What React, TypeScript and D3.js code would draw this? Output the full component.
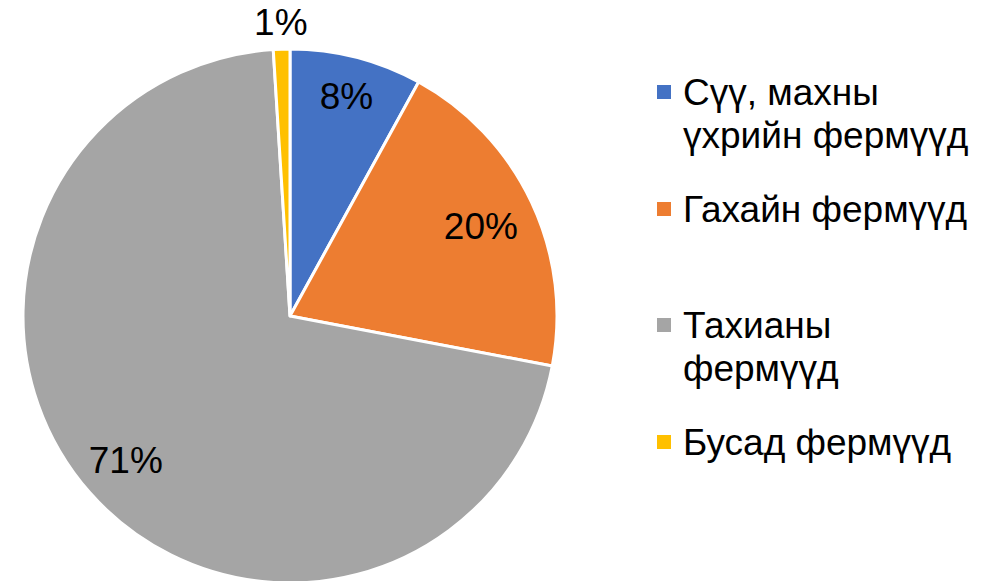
import React from "react";
import * as d3 from "d3";

const categories = ["Сүү, махны үхрийн фермүүд", "Гахайн фермүүд", "Тахианы фермүүд", "Бусад фермүүд"];
const legendLines = [["Сүү, махны", "үхрийн фермүүд"], ["Гахайн фермүүд"], ["Тахианы", "фермүүд"], ["Бусад фермүүд"]];
const values = [8, 20, 71, 1];
const colors = ["#4472C4", "#ED7D31", "#A5A5A5", "#FFC000"];
const legendBaselines = [105, 222, 338, 455];

export default function App() {
  const W = 1000, H = 581;
  const cx = 290, cy = 316, r = 267;
  const pie = d3.pie<number>().sort(null).value((d) => d)(values);
  const arc = d3.arc<d3.PieArcDatum<number>>().innerRadius(0).outerRadius(r);
  const total = d3.sum(values);
  const labelRadii = [0.85, 0.79, 0.82, 1.1];
  const font = "'Liberation Sans', Arial, sans-serif";
  return (
    <svg width={W} height={H} style={{ position: "absolute", left: 0, top: 0 }} fontFamily={font}>
      <rect width={W} height={H} fill="#fff" />
      <g transform={`translate(${cx},${cy})`}>
        {pie.map((p, i) => (
          <path key={i} d={arc(p) || ""} fill={colors[i]} stroke="#fff" strokeWidth={3} strokeLinejoin="round" />
        ))}
        {pie.map((p, i) => {
          const lr = r * labelRadii[i];
          const [x, y] = d3.arc<d3.PieArcDatum<number>>().innerRadius(lr).outerRadius(lr).centroid(p);
          return (
            <text key={i} x={x} y={y} textAnchor="middle" dominantBaseline="central" fontSize={37} fill="#000">
              {Math.round((values[i] / total) * 100)}%
            </text>
          );
        })}
      </g>
      {legendLines.map((lines, i) => (
        <g key={i}>
          <rect x={657} y={legendBaselines[i] - 20} width={14} height={14} fill={colors[i]} />
          <text x={683} y={legendBaselines[i]} fontSize={37} fill="#000">
            {lines.map((l, j) => (
              <tspan key={j} x={683} dy={j === 0 ? 0 : 43}>{l}</tspan>
            ))}
          </text>
        </g>
      ))}
    </svg>
  );
}
